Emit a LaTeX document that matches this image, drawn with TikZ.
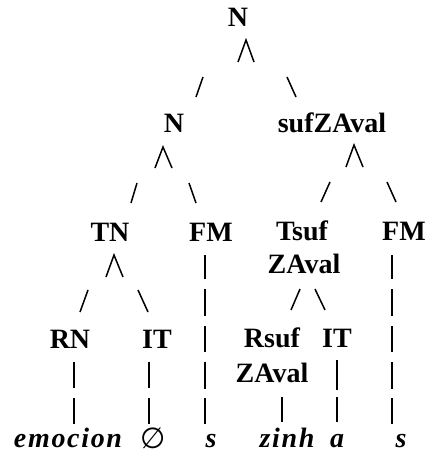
\documentclass[tikz,border=0pt]{standalone}
\usepackage{fontspec}
\newfontfamily\lab{Liberation Serif}
\newfontfamily\wrd{Liberation Serif}[LetterSpace=6]
\newfontfamily\symf{DejaVu Sans}
\begin{document}
\begin{tikzpicture}[x=1pt,y=-1pt,
  lbl/.style={font=\lab\bfseries\fontsize{28}{32}\selectfont, inner sep=0pt, anchor=base},
  word/.style={lbl, font=\wrd\bfseries\itshape\fontsize{28}{32}\selectfont},
  br/.style={line width=1.5pt, line join=miter, line cap=butt}]
\useasboundingbox (0,0) rectangle (428,460);

% category labels
\node[lbl] (n0) at (238,27) {N};
\node[lbl] (n1) at (174,132) {N};
\node[lbl] (suf) at (332,132) {sufZAval};
\node[lbl] (tn) at (110,241) {TN};
\node[lbl] (fm1) at (211,241) {FM};
\node[lbl] (tsuf) at (302,240) {Tsuf};
\node[lbl] (fm2) at (404,240) {FM};
\node[lbl] (tsuf2) at (304,273) {ZAval};
\node[lbl] (rn) at (70,348) {RN};
\node[lbl] (it1) at (157,348) {IT};
\node[lbl] (rsuf) at (272,347) {Rsuf};
\node[lbl] (it2) at (337,347) {IT};
\node[lbl] (rsuf2) at (272,382) {ZAval};

% terminal forms
\node[word] (w1) at (68,447) {emocion};
\node[lbl, font=\symf\fontsize{29}{32}\selectfont] (w2) at (153,448) {∅};
\node[word] (w3) at (211,447) {s};
\node[word] (w4) at (287,447) {zinh};
\node[word] (w5) at (337,447) {a};
\node[word] (w6) at (401,447) {s};

% branching marks under N
\draw[br] (238,62) -- (246,40) -- (254,62);
\draw[br] (203,77) -- (196,97);
\draw[br] (287,77) -- (296,97);

% branching under N and sufZAval
\draw[br] (155,168) -- (163,147) -- (172,168);
\draw[br] (346,167) -- (354,145) -- (363,167);
\draw[br] (137,183) -- (131,203);
\draw[br] (189,183) -- (196,203);
\draw[br] (330,182) -- (321,202);
\draw[br] (387,182) -- (396,202);

% branching under TN and Tsuf ZAval
\draw[br] (106,277) -- (114,255) -- (123,277);
\draw[br] (88,290) -- (80,312);
\draw[br] (138,290) -- (148,312);
\draw[br] (300,289) -- (291,310);
\draw[br] (315,289) -- (325,310);

% vertical bars under FM
\foreach \x in {205,392}
  \foreach \a/\b in {255/279,289/316,326/352,362/389,398/424}
    \draw[br] (\x,\a) -- (\x,\b);

% vertical bars under RN, IT, Rsuf ZAval
\foreach \x in {74,149}
  \foreach \a/\b in {362/388,398/424}
    \draw[br] (\x,\a) -- (\x,\b);
\draw[br] (337,360) -- (337,390);
\draw[br] (337,397) -- (337,422);
\draw[br] (282,397) -- (282,422);
\end{tikzpicture}
\end{document}
